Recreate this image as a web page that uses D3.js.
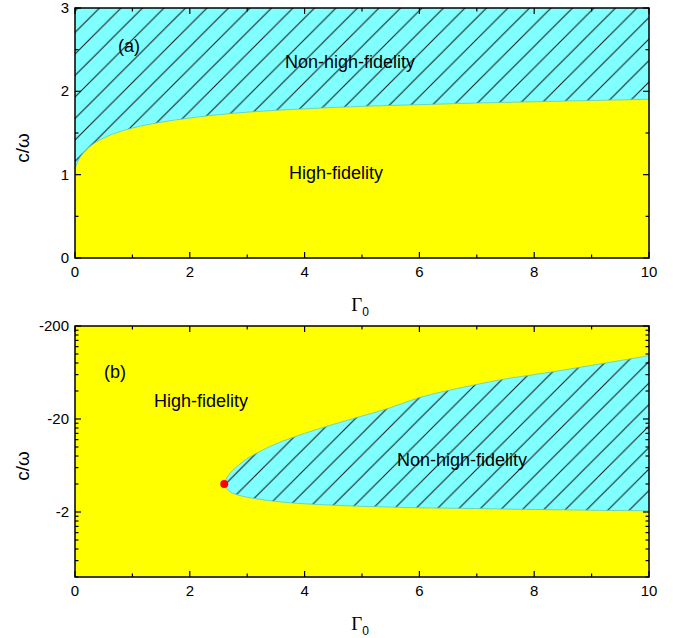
<!doctype html>
<html lang="en">
  <head>
    <meta charset="utf-8">
    <script src="https://d3js.org/d3.v7.min.js"></script>
    <title>High-fidelity regions</title>
    <style>
      body { margin: 0; background: #fff; }
      text { font-family: Arial, "Liberation Sans", sans-serif; fill: #000; }
      .tick-label { font-size: 15px; }
      .region-label { font-size: 18px; }
      .frame { fill: none; stroke: #000; stroke-width: 1.5px; }
      .tick { stroke: #000; stroke-width: 1.2px; }
    </style>
  </head>
  <body>
    <svg width="673" height="638"></svg>

    <script>
      // panel (a): boundary c/omega vs Gamma_0 (linear axis)
      const gammaA = [0, 0.05, 0.1, 0.2, 0.3, 0.5, 0.75, 1, 1.5, 2, 2.5, 3, 4, 5, 6, 7, 8, 9, 10];
      const boundaryA = [1.07, 1.16, 1.22, 1.30, 1.36, 1.44, 1.51, 1.56, 1.63, 1.68, 1.72, 1.75, 1.79, 1.82, 1.84, 1.86, 1.875, 1.89, 1.905];

      // panel (b): closed non-high-fidelity region, |c/omega| on log axis
      const gammaB = [2.6, 2.65, 2.7, 2.8, 3.0, 3.2, 3.5, 4, 4.5, 5, 5.5, 6, 6.5, 7, 7.5, 8, 8.5, 9, 9.5, 10];
      const upperB = [4.0, 4.7, 5.2, 6.0, 7.5, 8.8, 10.8, 14, 17.5, 21.5, 26.5, 34, 40.5, 47, 54, 60, 67, 75.5, 85, 96];
      const lowerB = [4.0, 3.55, 3.3, 3.1, 2.88, 2.75, 2.6, 2.45, 2.37, 2.3, 2.26, 2.22, 2.2, 2.18, 2.15, 2.13, 2.11, 2.09, 2.075, 2.06];
      const criticalPoint = [2.6, 4.0];

      const xTicks = [0, 2, 4, 6, 8, 10];
      const xMinor = [1, 3, 5, 7, 9];
      const yTicksA = [0, 1, 2, 3];
      const yMinorA = [0.5, 1.5, 2.5];
      const yTicksB = [2, 20, 200];

      const svg = d3.select("svg");
      const left = 75, right = 649;

      // "/" hatch for the non-high-fidelity region
      const h = 21.5;
      svg.append("defs").append("pattern")
        .attr("id", "hatch")
        .attr("patternUnits", "userSpaceOnUse")
        .attr("width", h)
        .attr("height", h)
        .append("path")
        .attr("d", `M0,${h} L${h},0 M${-h / 2},${h / 2} L${h / 2},${-h / 2} M${h / 2},${1.5 * h} L${1.5 * h},${h / 2}`)
        .attr("stroke", "#111")
        .attr("stroke-width", 1);

      const x = d3.scaleLinear().domain([0, 10]).range([left, right]);

      function drawXAxis(g, top, bottom) {
        xTicks.forEach(t => {
          g.append("line").attr("class", "tick").attr("x1", x(t)).attr("x2", x(t)).attr("y1", bottom).attr("y2", bottom - 6);
          g.append("line").attr("class", "tick").attr("x1", x(t)).attr("x2", x(t)).attr("y1", top).attr("y2", top + 6);
          g.append("text").attr("class", "tick-label").attr("x", x(t)).attr("y", bottom + 19)
            .attr("text-anchor", "middle").text(t);
        });
        xMinor.forEach(t => {
          g.append("line").attr("class", "tick").attr("x1", x(t)).attr("x2", x(t)).attr("y1", bottom).attr("y2", bottom - 3.5);
          g.append("line").attr("class", "tick").attr("x1", x(t)).attr("x2", x(t)).attr("y1", top).attr("y2", top + 3.5);
        });
        const title = g.append("text")
          .attr("x", 360).attr("y", bottom + 53)
          .attr("text-anchor", "middle");
        title.append("tspan").style("font-family", "'Liberation Serif', 'Times New Roman', serif").style("font-size", "19px").text("Γ");
        title.append("tspan").style("font-size", "12px").attr("dy", 5).text("0");
      }

      function drawYTicks(g, y, major, minor, fmt) {
        major.forEach(t => {
          g.append("line").attr("class", "tick").attr("x1", left).attr("x2", left + 6).attr("y1", y(t)).attr("y2", y(t));
          g.append("line").attr("class", "tick").attr("x1", right).attr("x2", right - 6).attr("y1", y(t)).attr("y2", y(t));
          g.append("text").attr("class", "tick-label").attr("x", left - 6).attr("y", y(t) + 5)
            .attr("text-anchor", "end").text(fmt(t));
        });
        minor.forEach(t => {
          g.append("line").attr("class", "tick").attr("x1", left).attr("x2", left + 3.5).attr("y1", y(t)).attr("y2", y(t));
          g.append("line").attr("class", "tick").attr("x1", right).attr("x2", right - 3.5).attr("y1", y(t)).attr("y2", y(t));
        });
      }

      function yTitle(g, cy) {
        g.append("text")
          .attr("transform", `translate(29,${cy}) rotate(-90)`)
          .attr("text-anchor", "middle")
          .style("font-size", "19px")
          .text("c/ω");
      }

      // ---------- panel (a) ----------
      const topA = 8, bottomA = 258;
      const yA = d3.scaleLinear().domain([0, 3]).range([bottomA, topA]);
      const gA = svg.append("g");

      gA.append("rect").attr("x", left).attr("y", topA).attr("width", right - left).attr("height", bottomA - topA).attr("fill", "#ffff00");

      const areaA = d3.area()
        .x((d, i) => x(gammaA[i]))
        .y0(yA(3))
        .y1(d => yA(d))
        .curve(d3.curveMonotoneX);
      gA.append("path").datum(boundaryA).attr("d", areaA).attr("fill", "#80ffff");
      gA.append("path").datum(boundaryA).attr("d", areaA).attr("fill", "url(#hatch)");
      gA.append("path").datum(boundaryA)
        .attr("d", d3.line().x((d, i) => x(gammaA[i])).y(d => yA(d)).curve(d3.curveMonotoneX))
        .attr("fill", "none").attr("stroke", "#5cc8c8").attr("stroke-width", 0.8);

      gA.append("text").attr("class", "region-label").attr("x", 129).attr("y", 52).attr("text-anchor", "middle").text("(a)");
      gA.append("text").attr("class", "region-label").attr("x", 350).attr("y", 68).attr("text-anchor", "middle").text("Non-high-fidelity");
      gA.append("text").attr("class", "region-label").attr("x", 336).attr("y", 179).attr("text-anchor", "middle").text("High-fidelity");

      drawYTicks(gA, yA, yTicksA, yMinorA, d => d);
      drawXAxis(gA, topA, bottomA);
      yTitle(gA, 148);
      gA.append("rect").attr("class", "frame").attr("x", left).attr("y", topA).attr("width", right - left).attr("height", bottomA - topA);

      // ---------- panel (b) ----------
      const topB = 326, bottomB = 577;
      const yB = d3.scaleLog().domain([0.4, 200]).range([bottomB, topB]);
      const gB = svg.append("g");

      gB.append("rect").attr("x", left).attr("y", topB).attr("width", right - left).attr("height", bottomB - topB).attr("fill", "#ffff00");

      // loop: upper branch back to the tip, then the lower branch out to Gamma = 10
      const loop = gammaB.map((g, i) => [g, upperB[i]]).reverse()
        .concat(gammaB.slice(1).map((g, i) => [g, lowerB[i + 1]]));
      const loopLine = d3.line().x(d => x(d[0])).y(d => yB(d[1])).curve(d3.curveCatmullRom.alpha(0.5));
      gB.append("path").attr("d", loopLine(loop) + "Z").attr("fill", "#80ffff");
      gB.append("path").attr("d", loopLine(loop) + "Z").attr("fill", "url(#hatch)");
      gB.append("path").attr("d", loopLine(loop))
        .attr("fill", "none").attr("stroke", "#5cc8c8").attr("stroke-width", 0.8);

      gB.append("circle")
        .attr("cx", x(criticalPoint[0]))
        .attr("cy", yB(criticalPoint[1]))
        .attr("r", 4)
        .attr("fill", "#ff0000");

      gB.append("text").attr("class", "region-label").attr("x", 115).attr("y", 378).attr("text-anchor", "middle").text("(b)");
      gB.append("text").attr("class", "region-label").attr("x", 201).attr("y", 407).attr("text-anchor", "middle").text("High-fidelity");
      gB.append("text").attr("class", "region-label").attr("x", 462).attr("y", 466).attr("text-anchor", "middle").text("Non-high-fidelity");

      // minor ticks at multiples of each decade's major value
      const yMinorB = [];
      [0.2, 2, 20].forEach(base => {
        d3.range(2, 10).forEach(k => {
          const v = base * k;
          if (v >= 0.4 && v < 200 && !yTicksB.includes(v)) yMinorB.push(v);
        });
      });
      drawYTicks(gB, yB, yTicksB, yMinorB, d => "-" + d);
      drawXAxis(gB, topB, bottomB);
      yTitle(gB, 466);
      gB.append("rect").attr("class", "frame").attr("x", left).attr("y", topB).attr("width", right - left).attr("height", bottomB - topB);
    </script>
  </body>
</html>
